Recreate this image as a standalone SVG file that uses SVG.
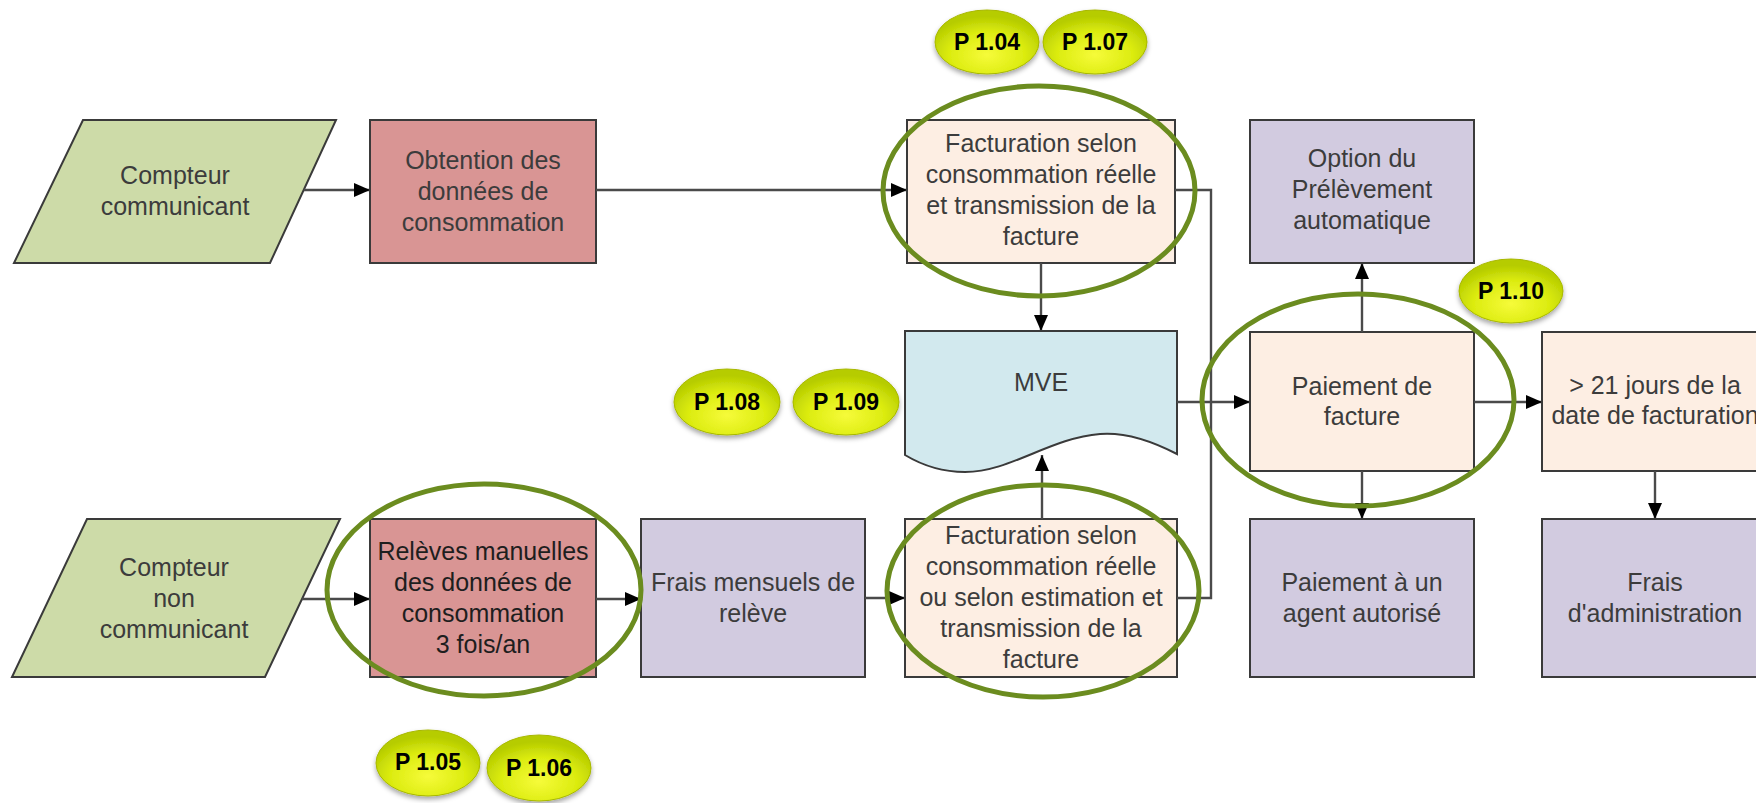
<svg xmlns="http://www.w3.org/2000/svg" width="1756" height="803" viewBox="0 0 1756 803">
<defs>
<style>
.box{stroke:#3a3a3a;stroke-width:2}
.io{fill:#cddba8}
.red{fill:#d99594}
.peach{fill:#fdeee3}
.purple{fill:#d2cbe0}
.doc{fill:#d2e9ee}
.t{font-family:"Liberation Sans",Arial,sans-serif;font-size:25px;fill:#3c3c3c;text-anchor:middle;dominant-baseline:central}
.dark{fill:#1e1e1e}
.c{fill:none;stroke:#4a4a4a;stroke-width:2.4}
.ring{fill:none;stroke:#6b8c1f;stroke-width:5}
.pl{font-family:"Liberation Sans",Arial,sans-serif;font-size:23px;font-weight:bold;fill:#000;text-anchor:middle;dominant-baseline:central}
.pe{fill:url(#pg);stroke:#a8b800;stroke-width:1;filter:url(#sh)}
</style>
<marker id="ar" markerWidth="16" markerHeight="14" refX="16" refY="7" orient="auto" markerUnits="userSpaceOnUse">
<path d="M0,0 L16,7 L0,14 z" fill="#000"/>
</marker>
<radialGradient id="pg" cx="50%" cy="70%" r="60%">
<stop offset="0" stop-color="#f6fb3a"/>
<stop offset="0.6" stop-color="#dcec10"/>
<stop offset="1" stop-color="#b6cc00"/>
</radialGradient>
<filter id="sh" x="-20%" y="-20%" width="140%" height="150%">
<feDropShadow dx="0" dy="3" stdDeviation="2.5" flood-color="#000" flood-opacity="0.35"/>
</filter>
</defs>
<rect width="1756" height="803" fill="#fff"/>

<g id="n-compteur-comm">
<polygon class="box io" points="83,120 336,120 270,263 14,263"/>
<text class="t" x="175" y="175">Compteur</text>
<text class="t" x="175" y="206">communicant</text>
</g>
<g id="n-obtention">
<rect class="box red" x="370" y="120" width="226" height="143"/>
<text class="t" x="483" y="160">Obtention des</text>
<text class="t" x="483" y="191">données de</text>
<text class="t" x="483" y="222">consommation</text>
</g>
<g id="n-fact1">
<rect class="box peach" x="907" y="120" width="268" height="143"/>
<text class="t" x="1041" y="143">Facturation selon</text>
<text class="t" x="1041" y="174">consommation réelle</text>
<text class="t" x="1041" y="205">et transmission de la</text>
<text class="t" x="1041" y="236">facture</text>
</g>
<g id="n-option">
<rect class="box purple" x="1250" y="120" width="224" height="143"/>
<text class="t" x="1362" y="158">Option du</text>
<text class="t" x="1362" y="189">Prélèvement</text>
<text class="t" x="1362" y="220">automatique</text>
</g>
<g id="n-mve">
<path class="box doc" d="M905,331 H1177 V454 C1150,440 1125,432 1100,434 C1050,438 1010,472 965,472 C940,472 920,464 905,455 Z"/>
<text class="t" x="1041" y="382">MVE</text>
</g>
<g id="n-paiement">
<rect class="box peach" x="1250" y="332" width="224" height="139"/>
<text class="t" x="1362" y="386">Paiement de</text>
<text class="t" x="1362" y="416">facture</text>
</g>
<g id="n-21jours">
<rect class="box peach" x="1542" y="332" width="226" height="139"/>
<text class="t" x="1655" y="385">&gt; 21 jours de la</text>
<text class="t" x="1655" y="415">date de facturation</text>
</g>
<g id="n-agent">
<rect class="box purple" x="1250" y="519" width="224" height="158"/>
<text class="t" x="1362" y="582">Paiement à un</text>
<text class="t" x="1362" y="613">agent autorisé</text>
</g>
<g id="n-admin">
<rect class="box purple" x="1542" y="519" width="226" height="158"/>
<text class="t" x="1655" y="582">Frais</text>
<text class="t" x="1655" y="613">d'administration</text>
</g>
<g id="n-compteur-non">
<polygon class="box io" points="87,519 340,519 265,677 12,677"/>
<text class="t" x="174" y="567">Compteur</text>
<text class="t" x="174" y="598">non</text>
<text class="t" x="174" y="629">communicant</text>
</g>
<g id="n-releves">
<rect class="box red" x="370" y="519" width="226" height="158"/>
<text class="t dark" x="483" y="551">Relèves manuelles</text>
<text class="t dark" x="483" y="582">des données de</text>
<text class="t dark" x="483" y="613">consommation</text>
<text class="t dark" x="483" y="644">3 fois/an</text>
</g>
<g id="n-frais-mensuels">
<rect class="box purple" x="641" y="519" width="224" height="158"/>
<text class="t" x="753" y="582">Frais mensuels de</text>
<text class="t" x="753" y="613">relève</text>
</g>
<g id="n-fact2">
<rect class="box peach" x="905" y="519" width="272" height="158"/>
<text class="t" x="1041" y="535">Facturation selon</text>
<text class="t" x="1041" y="566">consommation réelle</text>
<text class="t" x="1041" y="597">ou selon estimation et</text>
<text class="t" x="1041" y="628">transmission de la</text>
<text class="t" x="1041" y="659">facture</text>
</g>

<g id="connectors">
<path class="c" d="M304,190 H370" marker-end="url(#ar)"/>
<path class="c" d="M596,190 H907" marker-end="url(#ar)"/>
<path class="c" d="M1175,190 H1211 V598 H1177"/>
<path class="c" d="M1041,263 V331" marker-end="url(#ar)"/>
<path class="c" d="M1042,519 V455" marker-end="url(#ar)"/>
<path class="c" d="M1177,402 H1250" marker-end="url(#ar)"/>
<path class="c" d="M1362,332 V263" marker-end="url(#ar)"/>
<path class="c" d="M1362,471 V519" marker-end="url(#ar)"/>
<path class="c" d="M1474,402 H1542" marker-end="url(#ar)"/>
<path class="c" d="M1655,471 V519" marker-end="url(#ar)"/>
<path class="c" d="M302,599 H370" marker-end="url(#ar)"/>
<path class="c" d="M596,599 H641" marker-end="url(#ar)"/>
<path class="c" d="M865,598 H905" marker-end="url(#ar)"/>
</g>

<g id="rings">
<ellipse class="ring" cx="1039" cy="191" rx="156" ry="105"/>
<ellipse class="ring" cx="1358" cy="400" rx="156" ry="106"/>
<ellipse class="ring" cx="484" cy="590" rx="157" ry="106"/>
<ellipse class="ring" cx="1043" cy="591" rx="156" ry="106"/>
</g>

<g id="p104"><ellipse class="pe" cx="987" cy="42" rx="52" ry="32"/><text class="pl" x="987" y="42">P 1.04</text></g>
<g id="p107"><ellipse class="pe" cx="1095" cy="42" rx="52" ry="32"/><text class="pl" x="1095" y="42">P 1.07</text></g>
<g id="p108"><ellipse class="pe" cx="727" cy="402" rx="53" ry="33"/><text class="pl" x="727" y="402">P 1.08</text></g>
<g id="p109"><ellipse class="pe" cx="846" cy="402" rx="53" ry="33"/><text class="pl" x="846" y="402">P 1.09</text></g>
<g id="p110"><ellipse class="pe" cx="1511" cy="291" rx="52" ry="32"/><text class="pl" x="1511" y="291">P 1.10</text></g>
<g id="p105"><ellipse class="pe" cx="428" cy="763" rx="52" ry="33"/><text class="pl" x="428" y="762">P 1.05</text></g>
<g id="p106"><ellipse class="pe" cx="539" cy="768" rx="52" ry="33"/><text class="pl" x="539" y="768">P 1.06</text></g>
</svg>
